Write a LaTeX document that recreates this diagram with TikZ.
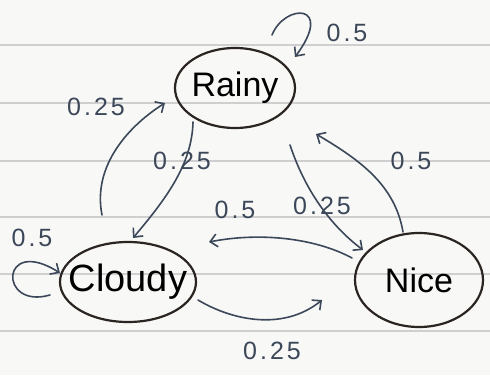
\documentclass[tikz,border=0pt]{standalone}
\usepackage{fontspec}
\setmainfont{Liberation Sans}
\newfontfamily\labelfont[LetterSpace=12]{Liberation Sans}
\usetikzlibrary{shapes.geometric,arrows.meta,calc}
\definecolor{paper}{HTML}{F8F8F6}
\definecolor{rulegrey}{HTML}{CFCFCF}
\definecolor{ink}{HTML}{2B2522}
\definecolor{pen}{HTML}{3C485A}
\begin{document}
\begin{tikzpicture}[x=1pt,y=-1pt,
  state/.style={ellipse, draw=ink, line width=2.2pt, inner sep=0pt, text=black},
  arr/.style={draw=pen, line width=1.6pt, line cap=round,
    -{Straight Barb[length=7pt,width=13pt,line width=1.6pt]}},
  prob/.style={text=pen, inner sep=0pt, font=\labelfont\fontsize{25}{25}\selectfont},
  ruled/.style={draw=rulegrey, line width=1.3pt}]
% sheet of lined paper
\fill[paper] (0,0) rectangle (490,375);
\useasboundingbox (0,0) rectangle (490,375);
\foreach \y in {45,103,161,217,274,331}
  \draw[ruled] (0,\y) -- (490,\y);

% states
\node[state, minimum width=120pt, minimum height=80pt,
      font=\fontsize{34}{34}\selectfont] (rainy) at (235,88) {\makebox[0pt]{Rainy}};
\node[state, minimum width=136pt, minimum height=80pt,
      font=\fontsize{38}{38}\selectfont] (cloudy) at (128,282) {\makebox[0pt]{Cloudy}};
\node[state, minimum width=128pt, minimum height=94pt,
      font=\fontsize{34}{34}\selectfont] (nice) at (419,280) {\makebox[0pt]{Nice}};

% transitions
\draw[arr] ($(rainy)+(37,-53)$) .. controls (285,3) and (335,3) .. ($(rainy)+(60,-31)$);
\draw[arr] ($(cloudy)+(-26,-67)$) .. controls (92,165) and (130,125) .. ($(rainy)+(-70,15)$);
\draw[arr] ($(rainy)+(-42,34)$) .. controls (192,165) and (165,200) .. ($(cloudy)+(5,-44)$);
\draw[arr] ($(rainy)+(55,57)$) .. controls (305,190) and (330,225) .. ($(nice)+(-56,-30)$);
\draw[arr] ($(nice)+(-16,-48)$) .. controls (395,185) and (360,160) .. ($(rainy)+(81,46)$);
\draw[arr] ($(nice)+(-67,-22)$) .. controls (315,238) and (260,232) .. ($(cloudy)+(81,-40)$);
\draw[arr] ($(cloudy)+(70,18)$) .. controls (235,322) and (285,330) .. ($(nice)+(-97,20)$);
\draw[arr] ($(cloudy)+(-78,13)$) .. controls (-2,310) and (0,235) .. ($(cloudy)+(-68,-9)$);

% probabilities
\node[prob] (pRR) at (347,33) {0.5};
\node[prob] (pCR) at (96,107) {0.25};
\node[prob] (pRC) at (182,161) {0.25};
\node[prob] (pNR) at (411,161) {0.5};
\node[prob] (pNC) at (235,210) {0.5};
\node[prob] (pRN) at (322,206) {0.25};
\node[prob] (pCC) at (32,238) {0.5};
\node[prob] (pCN) at (272,351) {0.25};
\end{tikzpicture}
\end{document}
